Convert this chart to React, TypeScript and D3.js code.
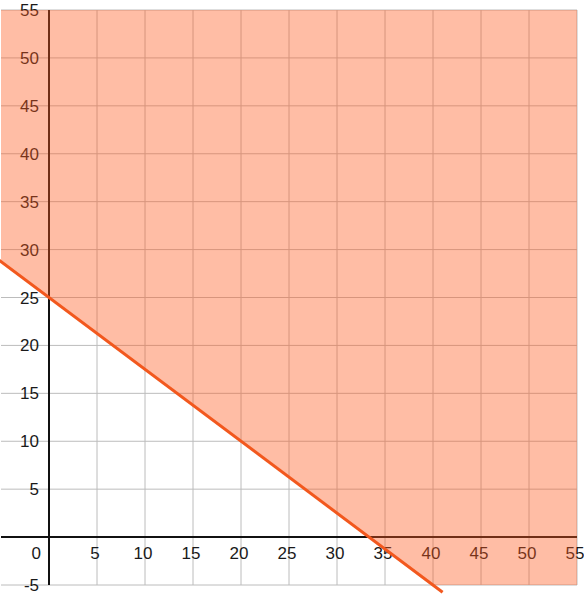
import React from "react";
import * as d3 from "d3";

const xTicks = [5, 10, 15, 20, 25, 30, 35, 40, 45, 50, 55];
const yTicks = [-5, 5, 10, 15, 20, 25, 30, 35, 40, 45, 50, 55];
const gridX = [0, 5, 10, 15, 20, 25, 30, 35, 40, 45, 50, 55];
const gridY = [-5, 0, 5, 10, 15, 20, 25, 30, 35, 40, 45, 50, 55];
// constraint line: y = intercept + slope * x
const lineIntercept = [25];
const lineSlope = [-0.75];
const lineXRange = [-5.2, 41];
const domainX = [-5, 55];
const domainY = [-5, 55];

export default function App() {
  const W = 584, H = 599;
  const x = d3.scaleLinear().domain(domainX).range([1, 577]);
  const y = d3.scaleLinear().domain(domainY).range([585, 10]);
  const b = lineIntercept[0], m = lineSlope[0];
  const f = (v: number) => b + m * v;
  const xAtBottom = (domainY[0] - b) / m;
  const region: [number, number][] = [
    [domainX[0], f(domainX[0])],
    [domainX[0], domainY[1]],
    [domainX[1], domainY[1]],
    [domainX[1], domainY[0]],
    [xAtBottom, domainY[0]],
  ];
  const area = d3.line<[number, number]>().x(d => x(d[0])).y(d => y(d[1]))(region) + "Z";
  const linePath = d3.line<number>().x(d => x(d)).y(d => y(f(d)))(lineXRange);
  const font = "'Liberation Sans', Arial, Helvetica, sans-serif";
  return (
    <svg width={W} height={H} style={{ position: "absolute", left: 0, top: 0, background: "#fff" }}>
      <g>
        {gridX.map(v => (
          <line key={"gx" + v} x1={x(v)} x2={x(v)} y1={y(domainY[0])} y2={y(domainY[1])} stroke="#bcbcbc" strokeWidth={1} />
        ))}
        {gridY.map(v => (
          <line key={"gy" + v} x1={x(domainX[0])} x2={x(domainX[1])} y1={y(v)} y2={y(v)} stroke="#bcbcbc" strokeWidth={1} />
        ))}
      </g>
      <line x1={x(domainX[0])} x2={x(domainX[1])} y1={y(0)} y2={y(0)} stroke="#111" strokeWidth={2} />
      <line x1={x(0)} x2={x(0)} y1={y(domainY[0])} y2={y(domainY[1])} stroke="#111" strokeWidth={2} />
      <g fontFamily={font} fontSize={17} fill="#1a1a1a">
        {xTicks.map(v => (
          <text key={"xt" + v} x={x(v) - 2} y={y(0) + 22} textAnchor="middle">{v}</text>
        ))}
        {yTicks.map(v => (
          <text key={"yt" + v} x={39} y={y(v) + 6} textAnchor="end">{v}</text>
        ))}
        <text x={41} y={y(0) + 22} textAnchor="end">0</text>
      </g>
      <path d={area} fill="#ff5a1e" fillOpacity={0.4} />
      <path d={linePath ?? ""} fill="none" stroke="#f2581e" strokeWidth={3} />
    </svg>
  );
}
